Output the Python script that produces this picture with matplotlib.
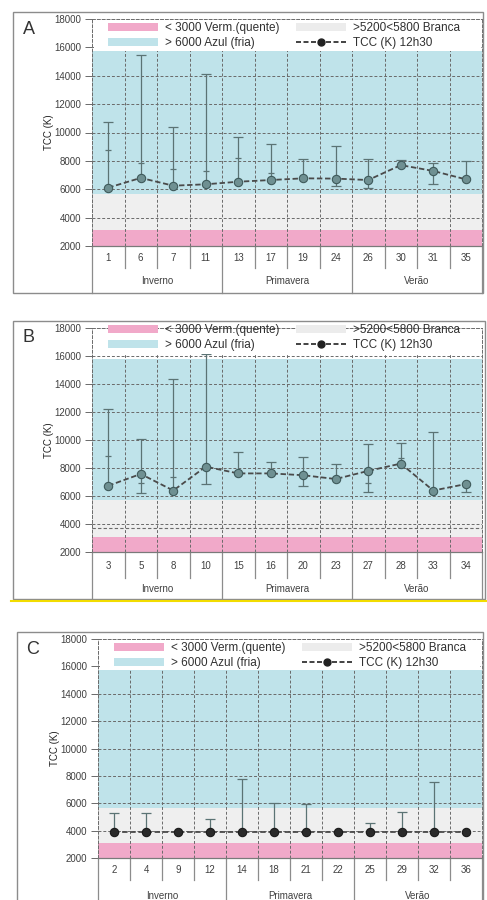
import numpy as np
import matplotlib
matplotlib.use('Agg')
import matplotlib.pyplot as plt
import matplotlib.transforms as mtransforms
from matplotlib.patches import Patch, Rectangle
from matplotlib.lines import Line2D

plt.rcParams['font.family'] = ['Liberation Sans', 'DejaVu Sans']

nan = np.nan

# season groups (4 days each)
estacoes = ['Inverno', 'Primavera', 'Verão']

# reference bands (K)
faixa_quente = (2000, 3100)
faixa_branca = (3100, 5700)
faixa_fria = (5700, 15750)

# panel A
dias_a = ['1', '6', '7', '11', '13', '17', '19', '24', '26', '30', '31', '35']
media_a = [6110, 6800, 6250, 6350, 6530, 6650, 6770, 6750, 6650, 7700, 7290, 6700]
maximo_a = [10750, 15450, 10400, 14100, 9700, 9160, 8110, 9070, 8110, 8060, 7830, 8000]
minimo_a = [nan, nan, nan, nan, nan, nan, nan, 6230, 6070, nan, 6370, nan]
desvio_a = [8770, 7870, 7400, 7290, 8180, 7150, nan, nan, nan, nan, nan, nan]

# panel B
dias_b = ['3', '5', '8', '10', '15', '16', '20', '23', '27', '28', '33', '34']
media_b = [6740, 7580, 6400, 8100, 7620, 7620, 7490, 7220, 7800, 8320, 6400, 6860]
maximo_b = [12200, 10050, 14320, 16100, 9170, 8450, 8770, 8270, 9710, 9800, 10540, nan]
minimo_b = [nan, 6250, nan, 6840, nan, nan, 6750, nan, 6320, nan, nan, 6320]
desvio_b = [8860, 6960, 7390, nan, nan, nan, nan, nan, 6940, 8700, nan, nan]
linha_extra_b = 3750

# panel C
dias_c = ['2', '4', '9', '12', '14', '18', '21', '22', '25', '29', '32', '36']
media_c = [3950, 3950, 3950, 3950, 3950, 3950, 3950, 3950, 3950, 3950, 3950, 3950]
maximo_c = [5280, 5280, nan, 4840, 7780, 6010, 5940, nan, 4550, 5350, 7590, nan]
minimo_c = [nan] * 12
desvio_c = [nan] * 12

W, H = 487, 900
fig = plt.figure(figsize=(W / 100, H / 100), dpi=100)

rosa = '#f1a9c9'
cinza = '#efefef'
azul = '#bfe3ea'
grade = '#6a6a6a'
borda = '#8c8c8c'
texto = '#404040'


def painel(letra, dias, media, maximo, minimo, desvio, caixa, quadro, linhas,
           cor_marc, borda_marc, base_legenda, topo_leg=0.995, extra=None):
    left, right, top, bottom = caixa
    ax = fig.add_axes([left / W, 1 - bottom / H, (right - left) / W, (bottom - top) / H])
    h = bottom - top
    x = np.arange(len(dias))
    media = np.array(media, float)
    maximo = np.array(maximo, float)
    minimo = np.array(minimo, float)
    desvio = np.array(desvio, float)

    ax.set_xlim(-0.5, len(dias) - 0.5)
    ax.set_ylim(2000, 18000)

    ax.axhspan(*faixa_quente, color=rosa, lw=0, zorder=0)
    ax.axhspan(*faixa_branca, color=cinza, lw=0, zorder=0)
    ax.axhspan(*faixa_fria, color=azul, lw=0, zorder=0)

    for yv in range(4000, 18000, 2000):
        ax.axhline(yv, color=grade, lw=0.7, ls=(0, (3, 2)), zorder=1)
    for xb in x[:-1] + 0.5:
        ax.axvline(xb, color=grade, lw=0.7, ls=(0, (3, 2)), zorder=1)
    if extra is not None:
        ax.axhline(extra, color=grade, lw=0.8, ls=(0, (3, 2)), zorder=1)

    # error bars
    cor_barra = '#5b7374'
    hi = np.where(np.isnan(maximo), media, maximo)
    lo = np.where(np.isnan(minimo), media, minimo)
    ax.vlines(x, lo, hi, color=cor_barra, lw=0.9, zorder=2)
    ax.plot(x, maximo, ls='none', marker='_', ms=7, mew=0.9, color=cor_barra, zorder=2)
    ax.plot(x, minimo, ls='none', marker='_', ms=7, mew=0.9, color=cor_barra, zorder=2)
    ax.plot(x, desvio, ls='none', marker='_', ms=4, mew=0.9, color=cor_barra, zorder=2)

    ax.plot(x, media, ls=(0, (3, 1.5)), lw=1.3, color='#4a4a4a', marker='o', ms=6,
            mfc=cor_marc, mec=borda_marc, mew=0.8, zorder=3)

    for s in ['top', 'right', 'left']:
        ax.spines[s].set_linestyle((0, (3, 2)))
        ax.spines[s].set_color(grade)
        ax.spines[s].set_linewidth(0.7)
    ax.spines['bottom'].set_color('#7a7a7a')
    ax.spines['bottom'].set_linewidth(0.9)

    ax.set_xticks([])
    ax.set_yticks(range(2000, 18001, 2000))
    ax.tick_params(axis='y', labelsize=7, labelcolor=texto, color=grade,
                   length=5, width=0.7, pad=3)
    ax.set_ylabel('TCC (K)', fontsize=7, color='#222222', labelpad=0)

    # category axis below the plot
    tr = mtransforms.blended_transform_factory(ax.transData, ax.transAxes)
    fy = lambda py: (bottom - py) / h
    r1, fim = linhas
    for i, d in enumerate(dias):
        ax.text(i, fy((bottom + r1) / 2), d, transform=tr, ha='center', va='center',
                fontsize=7, color=texto)
    for k, est in enumerate(estacoes):
        ax.text(4 * k + 1.5, fy((r1 + fim) / 2), est, transform=tr, ha='center',
                va='center', fontsize=7, color=texto)
    for xb in np.arange(-0.5, len(dias), 1.0):
        grupo = abs(((xb + 0.5) % 4)) < 1e-9
        y_fim = fim if grupo else r1 - 2
        ax.add_line(Line2D([xb, xb], [fy(bottom), fy(y_fim)], transform=tr,
                           color=borda, lw=0.9, clip_on=False))

    # white legend area over the top of the plot
    ax.axhspan(base_legenda, 17930, xmin=0.004, xmax=0.996, color='white', lw=0, zorder=4)

    handles = [Patch(fc=rosa, ec='none'), Patch(fc=azul, ec='none'),
               Patch(fc='#ececec', ec='none'),
               Line2D([], [], ls=(0, (3, 1.5)), lw=1.2, color='#222222', marker='o',
                      ms=5, mfc='#222222')]
    labels = ['< 3000 Verm.(quente)', '> 6000 Azul (fria)', '>5200<5800 Branca',
              'TCC (K) 12h30']
    leg = ax.legend(handles, labels, ncol=2, loc='upper left',
                    bbox_to_anchor=(14 / (right - left), topo_leg),
                    fontsize=8.5, handlelength=4.2, handleheight=0.7, labelspacing=0.25,
                    borderpad=0.2, handletextpad=0.6, columnspacing=1.4,
                    frameon=False, borderaxespad=0)
    leg.set_zorder(5)
    for t in leg.get_texts():
        t.set_color('#303030')

    x0, y0, x1, y1 = quadro
    fig.add_artist(Rectangle((x0 / W, 1 - y1 / H), (x1 - x0) / W, (y1 - y0) / H,
                             transform=fig.transFigure, fill=False, ec=borda, lw=1))
    fig.text((x0 + 16) / W, 1 - (y0 + 17) / H, letra, fontsize=13, color='#333333',
             ha='center', va='center')
    return ax


painel('A', dias_a, media_a, maximo_a, minimo_a, desvio_a,
       (92, 482, 19, 246), (13, 12, 483, 293), (270, 293),
       '#6f9092', '#3f5a5b', 15750)
painel('B', dias_b, media_b, maximo_b, minimo_b, desvio_b,
       (92, 482, 327.7, 552.3), (13, 321, 485, 599), (580, 599),
       '#6f9092', '#3f5a5b', 16100, topo_leg=1.025, extra=linha_extra_b)
painel('C', dias_c, media_c, maximo_c, minimo_c, desvio_c,
       (98, 482, 639, 858.3), (17, 632, 483, 910), (882, 910),
       '#2a2a2a', '#1a1a1a', 15750)

fig.add_artist(Line2D([11 / W, 1], [1 - 600.5 / H] * 2, transform=fig.transFigure,
                      color='#f2dc00', lw=1.5))

fig.savefig('out.png', dpi=100, facecolor='white')
